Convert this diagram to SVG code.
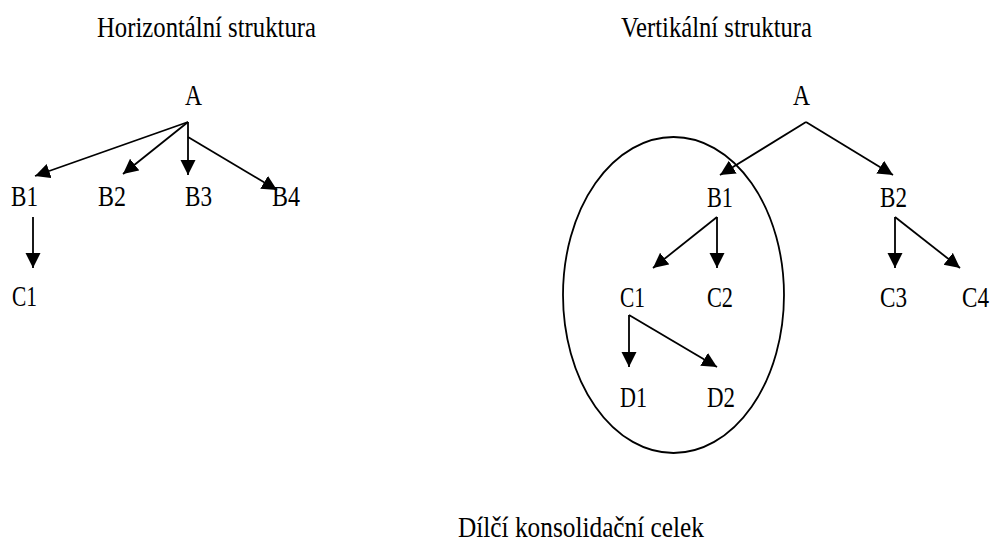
<svg xmlns="http://www.w3.org/2000/svg" width="996" height="545" viewBox="0 0 996 545">
<style>
text{font-family:"Liberation Serif","Times New Roman",serif;font-size:29px;fill:#000}
.c{fill:none;stroke:#000;stroke-width:1.8}
</style>
<defs>
<marker id="ah" markerUnits="userSpaceOnUse" markerWidth="16" markerHeight="16" refX="15" refY="7.5" orient="auto">
<path d="M0,0 L15,7.5 L0,15 z" fill="#000"/>
</marker>
</defs>
<rect width="996" height="545" fill="#fff"/>
<g id="titles">
<text x="97" y="37" textLength="219" lengthAdjust="spacingAndGlyphs">Horizontální struktura</text>
<text x="621" y="37" textLength="191" lengthAdjust="spacingAndGlyphs">Vertikální struktura</text>
<text x="458" y="537" textLength="246" lengthAdjust="spacingAndGlyphs">Dílčí konsolidační celek</text>
</g>
<g id="connectors">
<path class="c" marker-end="url(#ah)" d="M188,122 L35,176"/>
<path class="c" marker-end="url(#ah)" d="M188,122 L123,174"/>
<path class="c" marker-end="url(#ah)" d="M188,122 L188,175"/>
<path class="c" marker-end="url(#ah)" d="M188,137 L277,190"/>
<path class="c" marker-end="url(#ah)" d="M33,217 L33,268"/>
<path class="c" marker-end="url(#ah)" d="M806,122 L720,175"/>
<path class="c" marker-end="url(#ah)" d="M806,122 L893,175"/>
<path class="c" marker-end="url(#ah)" d="M717,217 L653,268"/>
<path class="c" marker-end="url(#ah)" d="M717,217 L717,268"/>
<path class="c" marker-end="url(#ah)" d="M895,217 L895,268"/>
<path class="c" marker-end="url(#ah)" d="M895,217 L960,268"/>
<path class="c" marker-end="url(#ah)" d="M629,315 L629,367"/>
<path class="c" marker-end="url(#ah)" d="M629,315 L717,367"/>
</g>
<g id="group-ellipse"><ellipse class="c" cx="673.5" cy="295" rx="110.5" ry="158"/></g>
<g id="hA"><text x="185" y="105" textLength="17" lengthAdjust="spacingAndGlyphs">A</text></g>
<g id="hB1"><text x="11" y="206" textLength="27" lengthAdjust="spacingAndGlyphs">B1</text></g>
<g id="hB2"><text x="98" y="206" textLength="28" lengthAdjust="spacingAndGlyphs">B2</text></g>
<g id="hB3"><text x="185" y="206" textLength="27" lengthAdjust="spacingAndGlyphs">B3</text></g>
<g id="hB4"><text x="272" y="206" textLength="28" lengthAdjust="spacingAndGlyphs">B4</text></g>
<g id="hC1"><text x="12" y="306" textLength="25" lengthAdjust="spacingAndGlyphs">C1</text></g>
<g id="vA"><text x="793" y="105" textLength="17" lengthAdjust="spacingAndGlyphs">A</text></g>
<g id="vB1"><text x="707" y="207" textLength="26" lengthAdjust="spacingAndGlyphs">B1</text></g>
<g id="vB2"><text x="880" y="207" textLength="27" lengthAdjust="spacingAndGlyphs">B2</text></g>
<g id="vC1"><text x="620" y="307" textLength="25" lengthAdjust="spacingAndGlyphs">C1</text></g>
<g id="vC2"><text x="707" y="307" textLength="26" lengthAdjust="spacingAndGlyphs">C2</text></g>
<g id="vC3"><text x="880" y="307" textLength="27" lengthAdjust="spacingAndGlyphs">C3</text></g>
<g id="vC4"><text x="962" y="307" textLength="27" lengthAdjust="spacingAndGlyphs">C4</text></g>
<g id="vD1"><text x="620" y="407" textLength="27" lengthAdjust="spacingAndGlyphs">D1</text></g>
<g id="vD2"><text x="707" y="407" textLength="28" lengthAdjust="spacingAndGlyphs">D2</text></g>
</svg>
